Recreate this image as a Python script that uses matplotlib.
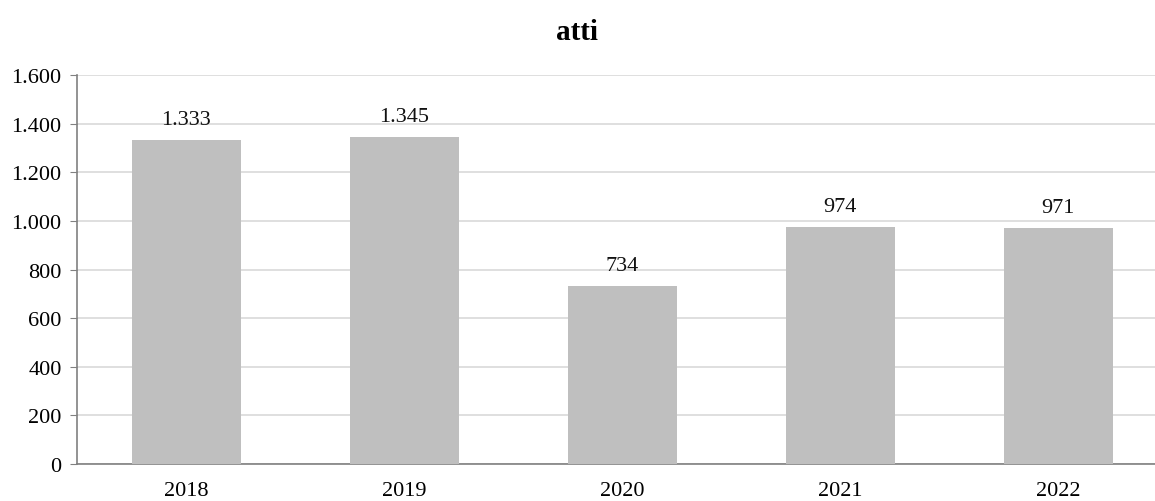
import matplotlib
matplotlib.use('Agg')
import matplotlib.pyplot as plt

years = ['2018', '2019', '2020', '2021', '2022']
values = [1333, 1345, 734, 974, 971]
yticks = [0, 200, 400, 600, 800, 1000, 1200, 1400, 1600]


def fmt(v):
    # Italian thousands separator
    return f'{v:,}'.replace(',', '.')


plt.rcParams['font.family'] = ['Liberation Serif', 'DejaVu Serif']

fig = plt.figure(figsize=(11.55, 5.02), dpi=100)
ax = fig.add_axes([77 / 1155, 37 / 502, 1090 / 1155, 389 / 502])

x = range(len(years))
bars = ax.bar(x, values, width=0.5, color='#BFBFBF', zorder=3)
for xi, v in zip(x, values):
    ax.text(xi, v + 45, fmt(v), ha='center', va='bottom', fontsize=16, color='#111111')

ax.set_xlim(-0.5, len(years) - 0.5)
ax.set_ylim(0, 1600)
ax.set_yticks(yticks)
ax.set_yticklabels([fmt(t) for t in yticks], fontsize=16)
ax.set_xticks(list(x))
ax.set_xticklabels(years, fontsize=16)
ax.tick_params(axis='x', length=0, pad=12)
ax.tick_params(axis='y', length=5, color='#808080', pad=6)

ax.grid(axis='y', color='#D9D9D9', linewidth=1.2, zorder=0)
for s in ['top', 'right']:
    ax.spines[s].set_visible(False)
ax.spines['left'].set_color('#808080')
ax.spines['bottom'].set_color('#808080')
ax.spines['left'].set_linewidth(1.2)
ax.spines['bottom'].set_linewidth(1.2)

fig.text(577 / 1155, 1 - 33 / 502, 'atti', ha='center', va='center',
         fontsize=21, fontweight='bold')

fig.savefig('out.png', dpi=100)
